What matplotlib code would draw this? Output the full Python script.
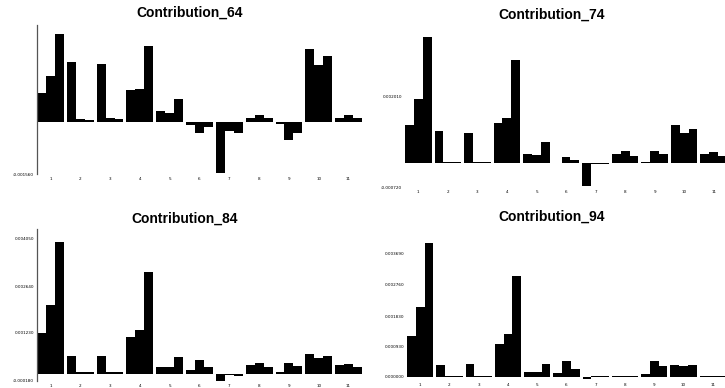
import numpy as np
import matplotlib
matplotlib.use("Agg")
import matplotlib.pyplot as plt

groups = ["1", "2", "3", "4", "5", "6", "7", "8", "9", "10", "11"]

c64 = [0.00087, 0.00137, 0.00265, 0.00179, 0.00008, 0.00007, 0.00173, 0.00013, 0.00009,
       0.00097, 0.00099, 0.00228, 0.00032, 0.00027, 0.00069, -0.00010, -0.00033, -0.00015,
       -0.00153, -0.00028, -0.00033, 0.00013, 0.00020, 0.00013, -0.00005, -0.00055, -0.00032,
       0.00218, 0.00172, 0.00199, 0.00013, 0.00020, 0.00013]
c74 = [0.00113, 0.00193, 0.00378, 0.00096, 0.00003, 0.00003, 0.00090, 0.00003, 0.00003,
       0.00121, 0.00134, 0.00310, 0.00026, 0.00023, 0.00062, 0.00001, 0.00017, 0.00010,
       -0.00068, -0.00002, -0.00002, 0.00027, 0.00035, 0.00020, 0.00002, 0.00035, 0.00026,
       0.00114, 0.00090, 0.00103, 0.00027, 0.00033, 0.00020]
c84 = [0.00122, 0.00207, 0.00395, 0.00054, 0.00005, 0.00005, 0.00054, 0.00005, 0.00005,
       0.00110, 0.00132, 0.00305, 0.00022, 0.00020, 0.00050, 0.00012, 0.00041, 0.00020,
       -0.00020, -0.00003, -0.00005, 0.00026, 0.00032, 0.00020, 0.00005, 0.00033, 0.00024,
       0.00060, 0.00048, 0.00054, 0.00026, 0.00031, 0.00020]
c94 = [0.00122, 0.00210, 0.00403, 0.00036, 0.00003, 0.00003, 0.00038, 0.00003, 0.00003,
       0.00098, 0.00128, 0.00302, 0.00016, 0.00016, 0.00040, 0.00012, 0.00048, 0.00024,
       -0.00007, 0.00002, 0.00002, 0.00003, 0.00003, 0.00003, 0.00008, 0.00048, 0.00032,
       0.00037, 0.00033, 0.00035, 0.00002, 0.00004, 0.00004]

titles = ["Contribution_64", "Contribution_74", "Contribution_84", "Contribution_94"]
series = [c64, c74, c84, c94]
yticks = [[-0.00156],
          [0.00201, -0.00072],
          [0.00405, 0.00264, 0.00123, -0.00018],
          [0.00369, 0.00276, 0.00183, 0.00093, 0.0]]

W, H = 725, 388
# x0, x1, zero, top, bottom (pixels), title x, title y
boxes = [(37, 362, 122, 25, 174, 190, 13),
         (405, 727, 163, 32, 187, 552, 15),
         (37, 362, 374, 229, 381, 185, 219),
         (407, 726, 377, 240, 380, 552, 217)]
px = 3e-5  # value per pixel

fig = plt.figure(figsize=(W / 100, H / 100), dpi=100)

for k in range(4):
    x0, x1, zero, top, bot, tx, ty = boxes[k]
    ax = fig.add_axes([x0 / W, 1 - bot / H, (x1 - x0) / W, (bot - top) / H])
    vals = np.array(series[k]).reshape(11, 3)
    xs = np.arange(11)
    for j in range(3):
        ax.bar(xs + (j - 1) * 0.3, vals[:, j], width=0.3, color="black", linewidth=0)
    ax.set_xlim(-0.45, 10.45)
    ax.set_ylim((zero - bot) * px, (zero - top) * px)
    ax.set_xticks(xs)
    ax.set_xticklabels(groups, fontsize=3)
    ax.set_yticks(yticks[k])
    ax.set_yticklabels(["%.6f" % v for v in yticks[k]], fontsize=3)
    ax.tick_params(length=0, pad=2)
    for s in ["top", "right", "bottom"]:
        ax.spines[s].set_visible(False)
    if k in (0, 2):
        ax.spines["left"].set_color("#555555")
        ax.spines["left"].set_linewidth(0.9)
    else:
        ax.spines["left"].set_visible(False)
    fig.text(tx / W, 1 - ty / H, titles[k], ha="center", va="center",
             fontsize=10, fontweight="bold", family="Liberation Sans")

fig.savefig("out.png", dpi=100)
